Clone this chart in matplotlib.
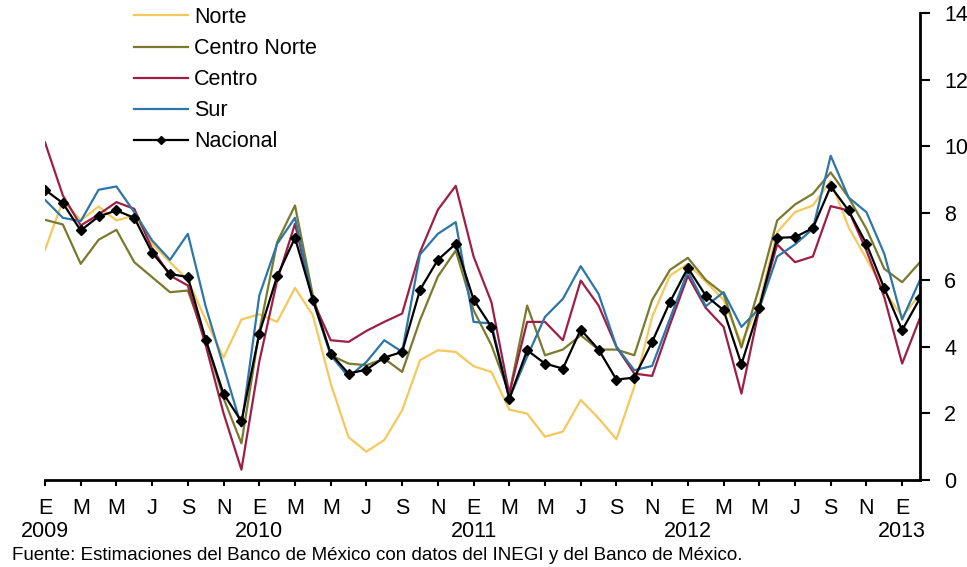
import numpy as np
import matplotlib
matplotlib.use("Agg")
import matplotlib.pyplot as plt

plt.rcParams['font.family'] = ['Liberation Sans', 'DejaVu Sans']

# ene 2009 - feb 2013 (mensual)
meses = ["E", "F", "M", "A", "M", "J", "J", "A", "S", "O", "N", "D"]
anio_ini = 2009
n_meses = 50

norte = [6.90, 8.38, 7.78, 8.20, 7.78, 7.93, 7.08, 6.53, 6.00, 4.80,
         3.67, 4.81, 4.97, 4.74, 5.76, 4.94, 2.89, 1.28, 0.85, 1.20,
         2.09, 3.59, 3.89, 3.84, 3.41, 3.24, 2.11, 1.99, 1.30, 1.45,
         2.40, 1.85, 1.22, 2.80, 4.89, 6.13, 6.48, 5.95, 5.40, 4.10,
         5.30, 7.43, 8.03, 8.23, 8.97, 7.58, 6.63, 5.68, 4.89, 5.58]
centro_norte = [7.80, 7.66, 6.48, 7.20, 7.50, 6.53, 6.08, 5.63, 5.68, 4.19,
                2.45, 1.10, 4.45, 7.13, 8.23, 5.53, 3.74, 3.49, 3.44, 3.64,
                3.24, 4.79, 6.10, 6.88, 5.09, 4.04, 2.59, 5.23, 3.74, 3.91,
                4.34, 3.91, 3.91, 3.74, 5.40, 6.30, 6.66, 6.00, 5.58, 3.97,
                5.78, 7.78, 8.26, 8.58, 9.22, 8.47, 7.53, 6.33, 5.93, 6.53]
centro = [10.12, 8.53, 7.63, 7.96, 8.33, 8.13, 6.93, 6.13, 5.83, 4.04,
          2.00, 0.31, 3.55, 5.98, 7.68, 5.38, 4.19, 4.14, 4.47, 4.74,
          4.99, 6.83, 8.10, 8.82, 6.70, 5.33, 2.59, 4.74, 4.74, 4.19,
          5.98, 5.23, 3.99, 3.19, 3.12, 4.66, 6.12, 5.16, 4.59, 2.59,
          5.14, 7.06, 6.53, 6.70, 8.21, 8.08, 6.88, 5.48, 3.49, 4.86]
sur = [8.40, 7.86, 7.76, 8.70, 8.80, 8.03, 7.18, 6.60, 7.38, 5.20,
       3.40, 1.60, 5.53, 7.08, 7.86, 5.38, 3.74, 3.09, 3.54, 4.19,
       3.84, 6.76, 7.38, 7.73, 4.74, 4.69, 2.44, 3.70, 4.89, 5.43,
       6.41, 5.58, 4.00, 3.29, 3.42, 4.84, 6.26, 5.21, 5.63, 4.59,
       5.14, 6.70, 7.06, 7.53, 9.72, 8.47, 8.03, 6.78, 4.81, 6.00]
nacional = [8.70, 8.30, 7.48, 7.90, 8.08, 7.86, 6.81, 6.18, 6.08, 4.21,
            2.58, 1.76, 4.39, 6.11, 7.26, 5.41, 3.79, 3.19, 3.31, 3.67,
            3.84, 5.70, 6.60, 7.08, 5.41, 4.59, 2.44, 3.89, 3.49, 3.34,
            4.51, 3.91, 3.01, 3.07, 4.14, 5.34, 6.36, 5.53, 5.09, 3.47,
            5.17, 7.26, 7.28, 7.55, 8.80, 8.08, 7.08, 5.75, 4.49, 5.45]

x = np.arange(n_meses)

fig = plt.figure(figsize=(9.67, 5.67), dpi=100)
ax = fig.add_axes([45/967, 1 - 480/567, 875/967, 467/567])

ax.plot(x, norte, color='#F5C85C', lw=1.6, label='Norte')
ax.plot(x, centro_norte, color='#7A7A2E', lw=1.6, label='Centro Norte')
ax.plot(x, centro, color='#9E1F45', lw=1.6, label='Centro')
ax.plot(x, sur, color='#2E75A8', lw=1.6, label='Sur')
ax.plot(x, nacional, color='black', lw=1.6, marker='D', markersize=5.5,
        label='Nacional', zorder=5)

ax.set_xlim(0, n_meses - 1)
ax.set_ylim(0, 14)

# eje derecho
ax.yaxis.tick_right()
ax.set_yticks(np.arange(0, 15, 2))
ax.tick_params(axis='y', direction='out', length=7.5, width=1.5, pad=10,
               labelsize=15.5)

# etiquetas de meses cada 2 meses, año bajo enero
ticks = np.arange(0, n_meses, 2)
etiquetas = []
for t in ticks:
    m = meses[t % 12]
    if t % 12 == 0:
        etiquetas.append(m + "\n" + str(anio_ini + t // 12))
    else:
        etiquetas.append(m)
ax.set_xticks(ticks)
ax.set_xticklabels(etiquetas, linespacing=1.15)
ax.tick_params(axis='x', direction='out', length=4, width=1.5, pad=9,
               labelsize=15.5)

for s in ['left', 'top']:
    ax.spines[s].set_visible(False)
for s in ['right', 'bottom']:
    ax.spines[s].set_linewidth(2)

ax.legend(loc='upper left', bbox_to_anchor=(134/967, 1 - 7/567),
          bbox_transform=fig.transFigure, frameon=False, fontsize=15.5,
          handlelength=2.5, handletextpad=0.3, labelspacing=0.47,
          borderpad=0, borderaxespad=0, numpoints=1, markerscale=0.7)

fig.text(12/967, 1 - 556/567,
         "Fuente: Estimaciones del Banco de México con datos del INEGI y del Banco de México.",
         fontsize=13.5, va='center', ha='left')

fig.savefig("out.png", dpi=100)
